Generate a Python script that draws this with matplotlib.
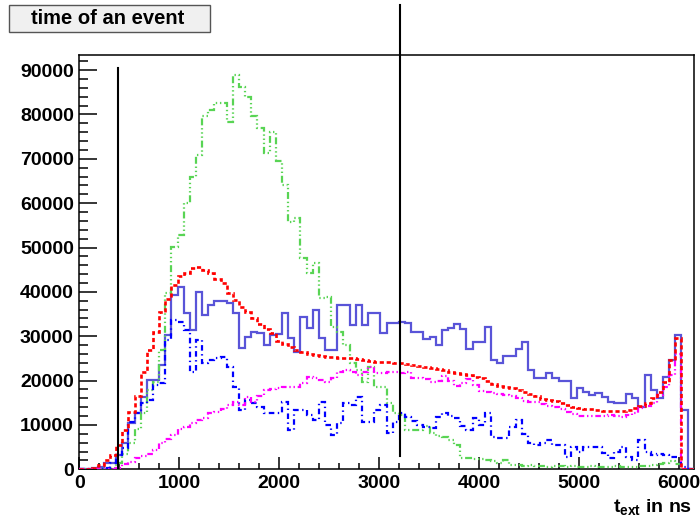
import numpy as np
import matplotlib
matplotlib.use("Agg")
import matplotlib.pyplot as plt
from matplotlib.ticker import MultipleLocator

plt.rcParams['font.family'] = ['Liberation Sans', 'DejaVu Sans']
plt.rcParams['font.weight'] = 'bold'
plt.rcParams['mathtext.fontset'] = 'custom'
plt.rcParams['mathtext.bf'] = 'Liberation Sans:bold'
plt.rcParams['mathtext.rm'] = 'Liberation Sans:bold'
plt.rcParams['lines.scale_dashes'] = False

# 100 bins from 0 to 6144 ns
n_bins = 100
t_max = 6144
edges = np.linspace(0, t_max, n_bins + 1)

# slate blue, solid
h_all = [0, 0, 200, 500, 1350, 1350, 3200, 5900, 10400, 12600,
         16300, 20100, 20100, 23500, 30200, 39300, 41100, 35200, 31400, 40000,
         34800, 37000, 37900, 37900, 37500, 35200, 27300, 29800, 30900, 30700,
         28000, 30200, 30400, 35200, 29600, 26400, 34300, 31800, 35900, 29600,
         26900, 26900, 37000, 37000, 32500, 37000, 32500, 35200, 35200, 30700,
         33000, 33000, 33200, 33000, 30900, 30900, 29300, 29800, 28000, 31400,
         31800, 32700, 31600, 27100, 28700, 28700, 32000, 24600, 23900, 25500,
         25500, 27100, 28700, 22300, 20500, 20500, 21700, 20500, 19900, 19900,
         16000, 18300, 17400, 16700, 17200, 16300, 15100, 14900, 14900, 16900,
         16000, 14000, 21200, 17800, 16000, 20800, 24600, 30200, 13300, 0]

# red, dashed
h_red = [0, 100, 300, 900, 2000, 3300, 5500, 8800, 13000, 16500,
         22000, 27000, 31000, 35500, 38500, 41500, 43500, 44300, 45300, 45600,
         45000, 44200, 43000, 42000, 39800, 38200, 36700, 35500, 34200, 32800,
         31600, 30700, 29000, 28200, 27500, 26800, 26400, 26100, 25800, 25500,
         25400, 25300, 25100, 25000, 25000, 24900, 24700, 24500, 24300, 24200,
         24100, 24000, 23900, 23800, 23400, 23200, 23000, 22800, 22500, 22300,
         22000, 21700, 21400, 21200, 20800, 20500, 19800, 19300, 18800, 18500,
         18300, 17800, 17400, 17000, 16500, 15900, 15700, 15500, 15000, 14600,
         14100, 13800, 13500, 13500, 13400, 13200, 13100, 13100, 13200, 13300,
         13800, 14200, 14900, 16000, 17400, 19600, 24600, 29600, 0, 0]

# light green, dash-dot-dot
h_green = [0, 0, 0, 0, 0, 300, 1500, 3500, 6000, 9000,
           12600, 17800, 19600, 26900, 39700, 50100, 52800, 60000, 65900, 70800,
           79700, 81000, 82600, 82600, 78300, 88900, 86200, 83900, 79700, 77000,
           71300, 76000, 69500, 64100, 55700, 56600, 47600, 44200, 46500, 38600,
           38800, 32000, 31000, 28000, 23900, 22300, 19600, 23000, 18500, 18500,
           14900, 12600, 12200, 8800, 8800, 8800, 9700, 8100, 7500, 7200,
           6500, 5400, 2500, 2500, 2300, 2300, 2000, 1800, 1350, 2000,
           900, 1000, 800, 900, 700, 800, 600, 700, 800, 600,
           700, 500, 600, 700, 500, 600, 500, 700, 600, 500,
           600, 700, 800, 1000, 1200, 1500, 1800, 1300, 0, 0]

# blue, dash-dot
h_blue = [0, 0, 0, 0, 300, 1500, 3200, 4700, 10600, 12600,
          14900, 15600, 19000, 19400, 29100, 33600, 33200, 31400, 21900, 29100,
          23900, 24600, 25100, 25300, 23000, 18500, 13300, 15600, 14900, 14000,
          12600, 12600, 12600, 15100, 8800, 13300, 13300, 12200, 11100, 15100,
          9900, 7700, 10400, 14900, 14400, 16300, 10600, 10600, 13300, 14400,
          8100, 10600, 12600, 11700, 10800, 10000, 9500, 9300, 11700, 12600,
          12000, 11500, 9700, 8800, 11500, 9900, 12600, 7200, 7000, 7000,
          9500, 11100, 8000, 5900, 5400, 6000, 6500, 5400, 5400, 2700,
          5000, 3800, 5000, 5000, 5000, 3600, 2500, 4000, 5000, 2700,
          2000, 6500, 3800, 3200, 3500, 3200, 2700, 2700, 500, 0]

# magenta, dash-dot
h_mag = [0, 0, 0, 0, 0, 100, 300, 1300, 1600, 2500,
         3000, 3500, 4300, 5900, 6800, 7700, 9000, 9500, 10400, 11000,
         11500, 12600, 13000, 13500, 14400, 15100, 14400, 16300, 15100, 16500,
         17800, 18000, 18300, 18500, 18500, 18500, 19500, 20800, 20500, 20100,
         19600, 20500, 21900, 22300, 22000, 21200, 22000, 23000, 21700, 21800,
         21900, 21900, 21700, 21900, 20500, 20500, 20300, 19600, 20000, 21000,
         20000, 18700, 19500, 20300, 19000, 17600, 17500, 17200, 17000, 16700,
         16500, 16000, 15500, 15100, 15100, 14800, 14200, 14000, 13500, 12900,
         12500, 12000, 12000, 12000, 12000, 12100, 12200, 12000, 11700, 12200,
         12600, 13800, 14300, 14900, 16700, 18500, 21200, 26000, 0, 0]

# cut lines
cut_low = 390
cut_high = 3210

fig = plt.figure(figsize=(7.0, 5.23), dpi=100)
ax = fig.add_axes([0.1133, 0.1027, 0.8777, 0.7921])

ax.stairs(h_all, edges, color='#5954d8', lw=1.6, zorder=3)
ax.stairs(h_green, edges, color='#59d454', lw=1.6,
          linestyle=(0, (5, 2, 1, 2, 1, 2, 1, 2)), zorder=3)
ax.stairs(h_blue, edges, color='#0000ff', lw=1.6,
          linestyle=(0, (4, 2.5, 1, 2.5)), zorder=3)
ax.stairs(h_mag, edges, color='#ff00ff', lw=1.6,
          linestyle=(0, (4, 2, 1, 2, 1, 2)), zorder=3)
ax.stairs(h_red, edges, color='#ff0000', lw=1.9,
          linestyle=(0, (3, 2)), zorder=4)

ax.plot([cut_low, cut_low], [0, 90500], color='black', lw=1.5, zorder=5)
ax.plot([cut_high, cut_high], [3100, 104700], color='black', lw=1.5,
        zorder=5, clip_on=False)

ax.set_xlim(0, t_max)
ax.set_ylim(0, 93400)

ax.xaxis.set_major_locator(MultipleLocator(1000))
ax.xaxis.set_minor_locator(MultipleLocator(200))
ax.yaxis.set_major_locator(MultipleLocator(10000))
ax.yaxis.set_minor_locator(MultipleLocator(2000))

ax.tick_params(axis='both', which='both', direction='in', top=False,
               right=False, width=1.1, labelsize=14)
ax.tick_params(axis='x', which='major', length=9, pad=4)
ax.tick_params(axis='x', which='minor', length=4.5)
ax.tick_params(axis='y', which='major', length=13, pad=4)
ax.tick_params(axis='y', which='minor', length=6.5)
for lab in ax.get_xticklabels() + ax.get_yticklabels():
    lab.set_fontweight('bold')

for sp in ax.spines.values():
    sp.set_linewidth(1.1)

# title box
fig.patches.append(plt.Rectangle((9 / 700, 1 - 32 / 523), 201 / 700, 27 / 523,
                                 transform=fig.transFigure, facecolor='#f0f0f0',
                                 edgecolor='#555555', lw=1.0, zorder=0))
fig.text(108 / 700, 1 - 19 / 523, 'time of an event', ha='center', va='center',
         fontsize=14.5, fontweight='bold')

fig.text(692 / 700, 1 - 512 / 523, r'$\mathbf{t_{ext}}$ in ns', ha='right',
         va='baseline', fontsize=14, fontweight='bold')

fig.savefig('out.png', dpi=100)
